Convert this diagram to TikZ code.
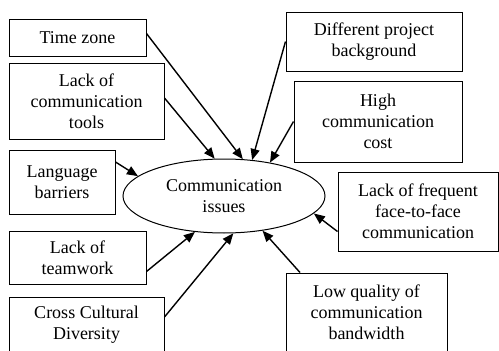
\documentclass[tikz,border=0pt]{standalone}
\usepackage{fontspec}
\setmainfont{Liberation Serif}
\usetikzlibrary{arrows.meta,shapes.geometric}
\begin{document}
\begin{tikzpicture}[x=1pt,y=-1pt,
  box/.style={draw=black,line width=1pt,rectangle,align=center,inner sep=2pt,font=\fontsize{18}{21}\selectfont},
  issue/.style={draw=black,line width=1pt,ellipse,inner sep=0pt,align=center,minimum width=202pt,minimum height=74pt,font=\fontsize{18}{21}\selectfont},
  link/.style={line width=1.4pt,-{Triangle[length=11pt,width=9pt]}}]
\useasboundingbox (0,0) rectangle (499,351);
\clip (0,0) rectangle (499,351);
\node[box,minimum width=137pt,minimum height=37pt] (tz) at (77.5,37.5) {Time zone};
\node[box,minimum width=155pt,minimum height=76pt] (ct) at (86.5,101) {Lack of\\communication\\tools};
\node[box,minimum width=106pt,minimum height=64pt] (lb) at (62,182) {Language\\barriers};
\node[box,minimum width=137pt,minimum height=53pt] (tw) at (77.5,257.5) {Lack of\\teamwork};
\node[box,minimum width=155pt,minimum height=72pt] (cc) at (86.5,333) {Cross Cultural\\Diversity\\\mbox{}};
\node[box,minimum width=176pt,minimum height=59pt] (dp) at (374,41.5) {Different project\\background};
\node[box,minimum width=168pt,minimum height=81pt] (hc) at (378,121.5) {High\\communication\\cost};
\node[box,minimum width=160pt,minimum height=79pt] (lf) at (418,211.5) {Lack of frequent\\face-to-face\\communication};
\node[box,minimum width=161pt,minimum height=100pt] (lq) at (366.5,323) {Low quality of\\communication\\bandwidth\\\mbox{}};
\node[issue] (iss) at (224,196) {Communication\\issues};
\draw[link] ([yshift=4pt]tz.east) -- (iss.63);
\draw[link] ([yshift=3pt]ct.east) -- (iss.104);
\draw[link] ([yshift=20pt]lb.east) -- (iss.167);
\draw[link] ([yshift=-14pt]tw.east) -- (iss.231);
\draw[link] ([yshift=16pt]cc.east) -- (iss.284);
\draw[link] (dp.west) -- (iss.52);
\draw[link] (hc.west) -- (iss.36);
\draw[link] ([yshift=-20pt]lf.west) -- (iss.349);
\draw[link] ([xshift=-66.5pt]lq.north) -- (iss.318);
\end{tikzpicture}
\end{document}
